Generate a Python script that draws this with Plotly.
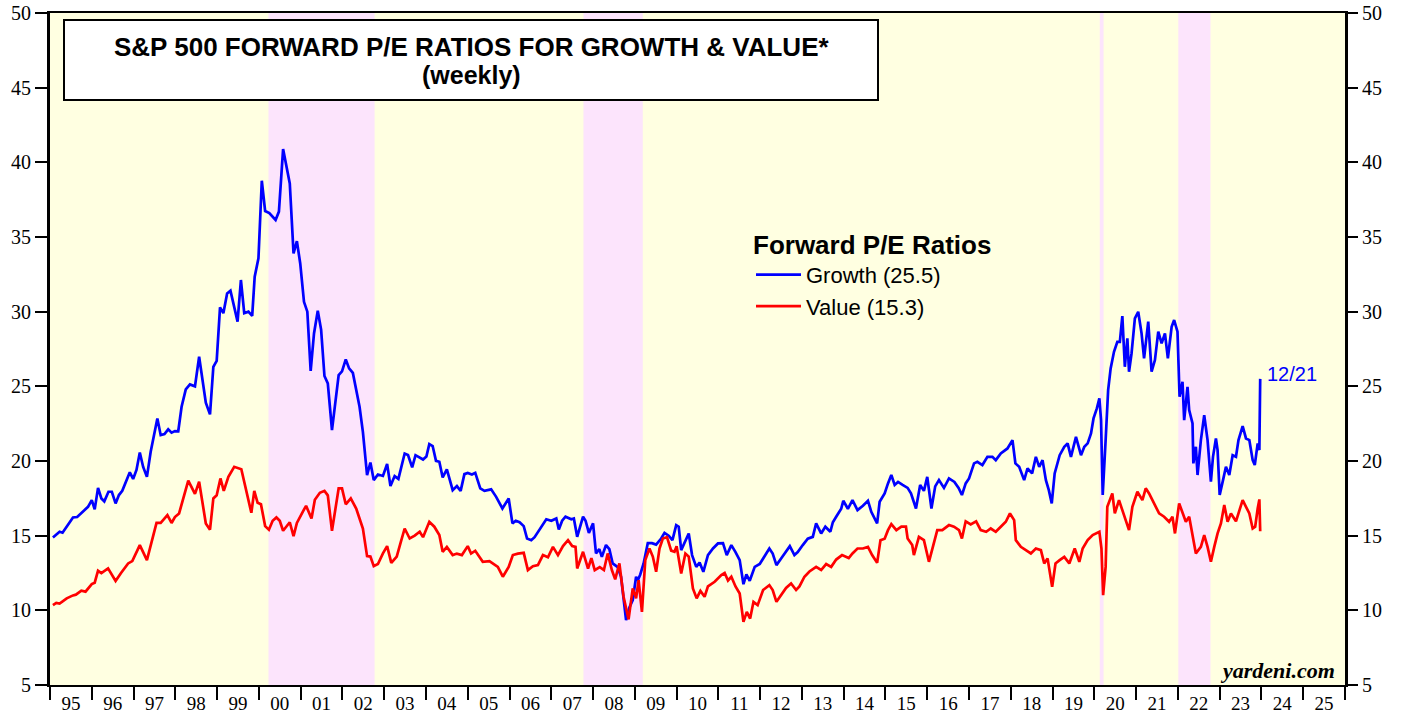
import plotly.graph_objects as go

# ---------------- data ----------------
# decimal year, forward P/E
growth_pts = [
    (1995.07, 14.88), (1995.15, 15.1), (1995.23, 15.26), (1995.30, 15.2), (1995.43, 15.7),
    (1995.55, 16.22), (1995.65, 16.25), (1995.79, 16.6), (1995.91, 16.93), (1996.00, 17.38),
    (1996.07, 16.76), (1996.15, 18.2), (1996.23, 17.49), (1996.30, 17.3), (1996.40, 17.94),
    (1996.48, 17.94), (1996.57, 17.16), (1996.65, 17.72), (1996.73, 18.0), (1996.91, 19.24),
    (1996.99, 18.8), (1997.07, 19.4), (1997.15, 20.57), (1997.23, 19.6), (1997.32, 18.94),
    (1997.41, 20.62), (1997.57, 22.85), (1997.65, 21.73), (1997.74, 21.8), (1997.83, 22.12),
    (1997.91, 21.9), (1997.99, 22.0), (1998.07, 21.99), (1998.15, 23.63), (1998.25, 24.8),
    (1998.35, 25.13), (1998.47, 25.0), (1998.57, 26.98), (1998.73, 23.9), (1998.83, 23.12),
    (1998.91, 26.3), (1998.99, 26.7), (1999.07, 30.29), (1999.15, 29.9), (1999.24, 31.22),
    (1999.32, 31.4), (1999.49, 29.33), (1999.57, 32.12), (1999.65, 29.9), (1999.75, 30.0),
    (1999.84, 29.72), (1999.90, 32.34), (1999.99, 33.57), (2000.07, 38.77), (2000.15, 36.74),
    (2000.25, 36.6), (2000.40, 36.14), (2000.48, 36.7), (2000.58, 40.89), (2000.74, 38.59),
    (2000.83, 33.9), (2000.91, 34.72), (2000.99, 33.23), (2001.08, 30.66), (2001.16, 30.0),
    (2001.24, 26.04), (2001.32, 28.54), (2001.41, 30.06), (2001.49, 28.8), (2001.57, 25.69),
    (2001.65, 25.2), (2001.75, 22.07), (2001.91, 25.75), (2001.99, 26.0), (2002.08, 26.8),
    (2002.16, 26.2), (2002.25, 25.9), (2002.41, 23.63), (2002.49, 21.95), (2002.59, 19.06),
    (2002.67, 19.9), (2002.75, 18.72), (2002.85, 19.1), (2002.97, 19.0), (2003.07, 19.8),
    (2003.15, 18.32), (2003.25, 18.99), (2003.34, 18.8), (2003.49, 20.5), (2003.57, 20.4),
    (2003.67, 19.57), (2003.75, 20.39), (2003.85, 20.2), (2003.93, 20.1), (2004.01, 20.3),
    (2004.08, 21.13), (2004.16, 21.0), (2004.24, 20.01), (2004.32, 19.95), (2004.40, 18.9),
    (2004.50, 19.44), (2004.64, 18.05), (2004.74, 18.32), (2004.83, 18.0), (2004.92, 19.12),
    (2005.00, 19.2), (2005.10, 19.1), (2005.18, 19.21), (2005.30, 18.17), (2005.40, 18.0),
    (2005.56, 18.1), (2005.68, 17.6), (2005.83, 16.82), (2005.98, 17.49), (2006.07, 15.82),
    (2006.15, 16.0), (2006.24, 15.9), (2006.34, 15.64), (2006.42, 14.81), (2006.52, 14.7),
    (2006.60, 14.9), (2006.68, 15.26), (2006.80, 15.82), (2006.88, 16.1), (2007.00, 16.0),
    (2007.12, 16.15), (2007.18, 15.41), (2007.26, 16.0), (2007.34, 16.27), (2007.48, 16.1),
    (2007.54, 16.15), (2007.62, 14.92), (2007.76, 16.27), (2007.82, 16.0), (2007.90, 15.19),
    (2008.00, 15.82), (2008.07, 13.81), (2008.15, 14.1), (2008.21, 13.58), (2008.31, 14.37),
    (2008.39, 14.1), (2008.47, 13.14), (2008.59, 12.9), (2008.67, 12.25), (2008.79, 9.34),
    (2008.87, 10.2), (2008.95, 10.68), (2009.03, 12.25), (2009.07, 12.0), (2009.13, 12.4),
    (2009.21, 13.14), (2009.31, 14.5), (2009.41, 14.5), (2009.51, 14.4), (2009.63, 14.81),
    (2009.71, 15.19), (2009.81, 15.0), (2009.90, 14.7), (2009.99, 15.71), (2010.05, 15.6),
    (2010.11, 14.03), (2010.21, 14.6), (2010.29, 15.15), (2010.37, 13.7), (2010.47, 12.91),
    (2010.55, 13.2), (2010.64, 12.58), (2010.75, 13.7), (2010.87, 14.14), (2010.99, 14.48),
    (2011.11, 14.5), (2011.20, 13.7), (2011.31, 14.37), (2011.41, 13.9), (2011.51, 13.36),
    (2011.60, 11.75), (2011.67, 12.4), (2011.75, 11.98), (2011.87, 12.91), (2011.99, 13.1),
    (2012.10, 13.63), (2012.22, 14.14), (2012.30, 13.8), (2012.39, 13.03), (2012.51, 13.5),
    (2012.62, 13.9), (2012.71, 14.3), (2012.82, 13.7), (2012.90, 13.9), (2013.02, 14.37),
    (2013.14, 14.8), (2013.26, 14.92), (2013.34, 15.82), (2013.46, 15.15), (2013.56, 15.6),
    (2013.68, 15.26), (2013.74, 15.9), (2013.82, 16.27), (2013.94, 16.8), (2013.99, 17.34),
    (2014.10, 16.8), (2014.21, 17.38), (2014.33, 16.71), (2014.46, 17.0), (2014.58, 17.34),
    (2014.66, 16.6), (2014.80, 15.82), (2014.86, 17.27), (2014.98, 17.83), (2015.06, 18.5),
    (2015.14, 19.06), (2015.22, 18.4), (2015.30, 18.6), (2015.41, 18.4), (2015.53, 18.2),
    (2015.61, 17.83), (2015.73, 16.82), (2015.83, 18.39), (2015.92, 18.0), (2016.00, 18.94),
    (2016.10, 16.82), (2016.19, 18.3), (2016.28, 18.72), (2016.40, 18.2), (2016.52, 18.83),
    (2016.65, 18.6), (2016.75, 18.2), (2016.83, 17.72), (2016.92, 18.5), (2017.00, 18.83),
    (2017.12, 19.84), (2017.20, 19.95), (2017.32, 19.73), (2017.44, 20.28), (2017.56, 20.28),
    (2017.64, 20.06), (2017.76, 20.51), (2017.92, 20.84), (2018.04, 21.4), (2018.11, 19.84),
    (2018.20, 19.61), (2018.32, 18.72), (2018.40, 19.5), (2018.51, 19.17), (2018.60, 20.28),
    (2018.68, 19.61), (2018.76, 20.06), (2018.84, 18.72), (2018.91, 18.05), (2018.98, 17.16),
    (2019.05, 19.17), (2019.17, 20.39), (2019.28, 20.95), (2019.36, 21.18), (2019.44, 20.28),
    (2019.56, 21.62), (2019.68, 20.39), (2019.76, 20.95), (2019.84, 21.18), (2019.92, 21.84),
    (2019.98, 22.85), (2020.06, 23.52), (2020.12, 24.19), (2020.16, 22.74), (2020.20, 17.72),
    (2020.27, 21.4), (2020.33, 24.75), (2020.39, 26.2), (2020.47, 27.31), (2020.55, 27.98),
    (2020.61, 27.98), (2020.67, 29.7), (2020.73, 26.31), (2020.79, 28.21), (2020.83, 25.98),
    (2020.89, 27.2), (2020.97, 29.55), (2021.05, 29.99), (2021.13, 28.55), (2021.19, 26.87),
    (2021.29, 29.33), (2021.37, 25.98), (2021.45, 26.76), (2021.53, 28.66), (2021.61, 27.88),
    (2021.69, 28.55), (2021.76, 26.87), (2021.85, 28.99), (2021.91, 29.44), (2021.99, 28.66),
    (2022.04, 24.3), (2022.11, 25.31), (2022.15, 22.74), (2022.23, 24.97), (2022.27, 23.41),
    (2022.35, 22.52), (2022.37, 19.84), (2022.43, 20.95), (2022.47, 19.06), (2022.55, 21.4),
    (2022.63, 23.07), (2022.71, 21.4), (2022.79, 18.61), (2022.84, 20.28), (2022.91, 21.51),
    (2022.95, 20.73), (2023.00, 17.72), (2023.08, 18.72), (2023.15, 19.61), (2023.23, 19.06),
    (2023.31, 20.39), (2023.39, 20.28), (2023.45, 21.4), (2023.55, 22.34), (2023.63, 21.51),
    (2023.71, 21.4), (2023.79, 20.06), (2023.84, 19.73), (2023.91, 21.18), (2023.95, 20.73),
    (2023.97, 25.5),
]

value_pts = [
    (1995.07, 10.35), (1995.15, 10.5), (1995.23, 10.45), (1995.40, 10.8), (1995.55, 11.0),
    (1995.62, 11.05), (1995.75, 11.31), (1995.85, 11.25), (1996.00, 11.76), (1996.07, 11.85),
    (1996.15, 12.65), (1996.23, 12.5), (1996.39, 12.81), (1996.57, 11.96), (1996.70, 12.5),
    (1996.87, 13.14), (1996.97, 13.3), (1997.15, 14.37), (1997.32, 13.36), (1997.55, 15.86),
    (1997.65, 15.85), (1997.81, 16.38), (1997.91, 15.85), (1997.99, 16.25), (1998.09, 16.49),
    (1998.31, 18.68), (1998.47, 17.8), (1998.57, 18.61), (1998.73, 15.82), (1998.83, 15.4),
    (1998.91, 17.49), (1998.99, 17.7), (1999.08, 18.83), (1999.16, 18.0), (1999.27, 18.94),
    (1999.41, 19.61), (1999.58, 19.45), (1999.82, 16.53), (1999.89, 18.0), (1999.97, 17.2),
    (2000.05, 17.1), (2000.15, 15.64), (2000.24, 15.4), (2000.33, 16.0), (2000.42, 16.22),
    (2000.50, 16.0), (2000.58, 15.33), (2000.74, 15.9), (2000.83, 14.97), (2000.91, 15.85),
    (2001.05, 16.6), (2001.13, 17.0), (2001.26, 16.15), (2001.34, 17.4), (2001.46, 17.87),
    (2001.57, 18.0), (2001.65, 17.7), (2001.75, 15.33), (2001.91, 18.17), (2001.99, 18.17),
    (2002.08, 17.1), (2002.20, 17.5), (2002.33, 16.82), (2002.41, 16.1), (2002.49, 15.48),
    (2002.59, 13.63), (2002.67, 13.6), (2002.75, 12.96), (2002.85, 13.1), (2002.97, 13.81),
    (2003.07, 14.3), (2003.17, 13.18), (2003.30, 13.6), (2003.39, 14.5), (2003.49, 15.48),
    (2003.61, 14.81), (2003.73, 15.0), (2003.85, 15.26), (2003.93, 14.9), (2004.08, 15.93),
    (2004.20, 15.6), (2004.32, 15.04), (2004.40, 13.92), (2004.50, 14.25), (2004.64, 13.7),
    (2004.74, 13.8), (2004.86, 13.7), (2005.00, 14.3), (2005.08, 13.8), (2005.18, 13.99),
    (2005.36, 13.25), (2005.52, 13.3), (2005.72, 12.91), (2005.84, 12.25), (2005.98, 12.91),
    (2006.08, 13.7), (2006.20, 13.8), (2006.34, 13.85), (2006.44, 12.69), (2006.56, 12.95),
    (2006.68, 13.03), (2006.80, 13.7), (2006.92, 13.55), (2007.04, 14.25), (2007.16, 13.7),
    (2007.28, 14.3), (2007.40, 14.7), (2007.50, 14.3), (2007.58, 14.25), (2007.62, 12.8),
    (2007.76, 13.92), (2007.88, 12.8), (2007.96, 13.5), (2008.04, 12.69), (2008.16, 12.9),
    (2008.26, 12.7), (2008.35, 13.81), (2008.45, 12.7), (2008.53, 12.07), (2008.63, 13.14),
    (2008.73, 10.91), (2008.85, 9.39), (2008.95, 11.47), (2009.03, 10.8), (2009.09, 12.02),
    (2009.17, 9.9), (2009.25, 13.36), (2009.35, 14.14), (2009.43, 13.6), (2009.51, 12.58),
    (2009.59, 14.14), (2009.67, 14.81), (2009.77, 14.9), (2009.87, 14.0), (2009.95, 13.92),
    (2010.00, 14.3), (2010.11, 12.47), (2010.21, 13.8), (2010.29, 13.6), (2010.39, 11.47),
    (2010.48, 10.8), (2010.57, 11.3), (2010.67, 10.91), (2010.75, 11.6), (2010.91, 11.91),
    (2011.07, 12.36), (2011.15, 12.5), (2011.23, 12.0), (2011.31, 12.25), (2011.41, 11.6),
    (2011.51, 11.13), (2011.60, 9.23), (2011.68, 9.9), (2011.76, 9.45), (2011.84, 10.57),
    (2011.94, 10.35), (2012.07, 11.36), (2012.22, 11.69), (2012.30, 11.36), (2012.39, 10.57),
    (2012.50, 11.0), (2012.62, 11.5), (2012.74, 11.8), (2012.86, 11.36), (2012.94, 11.6),
    (2013.06, 12.25), (2013.18, 12.6), (2013.34, 12.91), (2013.46, 12.7), (2013.58, 13.1),
    (2013.70, 12.91), (2013.82, 13.4), (2013.96, 13.7), (2014.12, 13.5), (2014.21, 13.81),
    (2014.33, 14.14), (2014.46, 14.14), (2014.58, 14.25), (2014.68, 13.7), (2014.80, 13.18),
    (2014.88, 14.7), (2014.98, 14.8), (2015.06, 15.37), (2015.14, 15.77), (2015.26, 15.37),
    (2015.38, 15.6), (2015.49, 15.6), (2015.53, 14.81), (2015.64, 14.37), (2015.68, 13.7),
    (2015.80, 14.92), (2015.92, 14.7), (2016.04, 13.25), (2016.12, 14.03), (2016.24, 15.37),
    (2016.36, 15.37), (2016.52, 15.71), (2016.64, 15.6), (2016.76, 15.37), (2016.83, 14.81),
    (2016.92, 15.96), (2017.04, 15.75), (2017.17, 15.96), (2017.28, 15.37), (2017.41, 15.26),
    (2017.52, 15.48), (2017.64, 15.26), (2017.76, 15.6), (2017.88, 15.93), (2017.98, 16.49),
    (2018.08, 16.04), (2018.12, 14.7), (2018.24, 14.25), (2018.36, 14.03), (2018.48, 13.81),
    (2018.60, 14.14), (2018.72, 14.03), (2018.80, 13.14), (2018.88, 13.48), (2018.99, 11.57),
    (2019.07, 13.14), (2019.17, 13.36), (2019.28, 13.58), (2019.40, 13.14), (2019.53, 14.14),
    (2019.64, 13.25), (2019.72, 14.14), (2019.84, 14.7), (2019.96, 15.04), (2020.12, 15.26),
    (2020.17, 14.14), (2020.21, 11.02), (2020.27, 12.91), (2020.31, 16.93), (2020.43, 17.83),
    (2020.49, 16.49), (2020.59, 17.38), (2020.67, 16.71), (2020.75, 15.96), (2020.83, 15.37),
    (2020.91, 16.93), (2021.03, 17.94), (2021.15, 17.38), (2021.23, 18.17), (2021.31, 17.83),
    (2021.43, 17.16), (2021.55, 16.49), (2021.67, 16.27), (2021.79, 15.93), (2021.87, 16.27),
    (2021.93, 15.15), (2022.03, 17.16), (2022.11, 16.49), (2022.19, 15.93), (2022.27, 16.27),
    (2022.35, 15.15), (2022.43, 13.81), (2022.55, 14.25), (2022.63, 15.04), (2022.71, 14.25),
    (2022.79, 13.25), (2022.87, 14.25), (2022.95, 15.15), (2023.03, 15.82), (2023.11, 17.05),
    (2023.19, 15.93), (2023.27, 16.49), (2023.39, 15.96), (2023.47, 16.71), (2023.55, 17.38),
    (2023.63, 16.93), (2023.71, 16.49), (2023.79, 15.48), (2023.85, 15.6), (2023.91, 16.82),
    (2023.95, 17.43), (2023.97, 15.3),
]

growth_t = [p[0] for p in growth_pts]
growth_v = [p[1] for p in growth_pts]
value_t = [p[0] for p in value_pts]
value_v = [p[1] for p in value_pts]

# bear-market shading (decimal years)
bear_start = [2000.23, 2007.77, 2020.13, 2022.01]
bear_end = [2002.77, 2009.19, 2020.22, 2022.78]

year_ticks = list(range(1995, 2027))
year_labels = ['95', '96', '97', '98', '99', '00', '01', '02', '03', '04', '05', '06', '07',
               '08', '09', '10', '11', '12', '13', '14', '15', '16', '17', '18', '19', '20',
               '21', '22', '23', '24', '25']
y_ticks = [5, 10, 15, 20, 25, 30, 35, 40, 45, 50]

growth_last = 25.5
value_last = 15.3
last_date = '12/21'
title_line1 = 'S&P 500 FORWARD P/E RATIOS FOR GROWTH & VALUE*'
title_line2 = '(weekly)'

# ---------------- figure ----------------
SERIF = 'Liberation Serif, Times New Roman, serif'
SANS = 'Liberation Sans, Arial, sans-serif'
BLUE = '#0000FF'
RED = '#FF0000'

W, H = 1405, 717
ML, MR, MT, MB = 50, 60, 13, 32
PW, PH = W - ML - MR, H - MT - MB


def px_x(px):
    return (px - ML) / PW


def px_y(py):
    return 1 - (py - MT) / PH


fig = go.Figure()
fig.add_trace(go.Scatter(
    x=growth_t, y=growth_v, mode='lines', name=f'Growth ({growth_last})',
    line=dict(color=BLUE, width=2.7)))
fig.add_trace(go.Scatter(
    x=value_t, y=value_v, mode='lines', name=f'Value ({value_last})',
    xaxis='x2', yaxis='y2', line=dict(color=RED, width=2.7)))

for s, e in zip(bear_start, bear_end):
    fig.add_shape(type='rect', xref='x', yref='paper', x0=s, x1=e, y0=0, y1=1,
                  fillcolor='#FCE4FC', line_width=0, layer='below')

tickfont = dict(family=SERIF, size=20, color='black')
xtickfont = dict(family=SERIF, size=19, color='black')
fig.update_layout(
    width=W, height=H,
    margin=dict(l=ML, r=MR, t=MT, b=MB, pad=0, autoexpand=False),
    paper_bgcolor='white', plot_bgcolor='#FFFFE1',
    showlegend=True,
    xaxis=dict(range=[1995, 2026], tickmode='array', tickvals=year_ticks,
               ticktext=[''] * len(year_ticks), ticks='outside', ticklen=13,
               tickwidth=2, tickcolor='black', showline=True, linecolor='black',
               linewidth=2, mirror=True, showgrid=False, zeroline=False,
               automargin=False),
    xaxis2=dict(range=[1995, 2026], overlaying='x', anchor='y2', side='bottom',
                tickmode='array', tickvals=[y + 0.5 for y in year_ticks[:-1]],
                ticktext=year_labels, ticks='outside', ticklen=1,
                tickcolor='rgba(0,0,0,0)', showline=False, showgrid=False,
                zeroline=False, tickfont=xtickfont, automargin=False),
    yaxis=dict(range=[5, 50], tickmode='array', tickvals=y_ticks, ticks='outside',
               ticklen=12, tickwidth=1.5, tickcolor='black', showline=True,
               linecolor='black', linewidth=3, mirror=True, showgrid=False,
               zeroline=False, tickfont=tickfont, automargin=False),
    yaxis2=dict(range=[5, 50], overlaying='y', side='right', anchor='x2',
                tickmode='array', tickvals=y_ticks, ticks='outside', ticklen=12,
                tickwidth=1.5, tickcolor='black', showline=False, showgrid=False,
                zeroline=False, tickfont=tickfont, automargin=False),
    legend=dict(x=px_x(751), y=px_y(220), xanchor='left', yanchor='top',
                bgcolor='rgba(0,0,0,0)', borderwidth=0, tracegroupgap=0,
                itemwidth=45,
                title=dict(text='<b>Forward P/E Ratios</b>',
                           font=dict(family=SANS, size=26, color='black')),
                font=dict(family=SANS, size=22, color='black')),
)

# title box
fig.add_shape(type='rect', xref='paper', yref='paper',
              x0=px_x(64), x1=px_x(878), y0=px_y(100), y1=px_y(20),
              fillcolor='white', line=dict(color='black', width=2), layer='above')
fig.add_annotation(
    xref='paper', yref='paper', x=px_x(471), y=px_y(47), xanchor='center',
    yanchor='middle', showarrow=False, text=f'<b>{title_line1}</b>',
    font=dict(family=SANS, size=26, color='black'))
fig.add_annotation(
    xref='paper', yref='paper', x=px_x(471), y=px_y(75), xanchor='center',
    yanchor='middle', showarrow=False, text=f'<b>{title_line2}</b>',
    font=dict(family=SANS, size=25, color='black'))

# last-date label
fig.add_annotation(
    x=growth_t[-1], y=growth_v[-1], xref='x', yref='y', xanchor='left',
    yanchor='middle', showarrow=False, xshift=5, yshift=5,
    text=last_date, font=dict(family=SANS, size=20, color=BLUE))

# source
fig.add_annotation(
    xref='paper', yref='paper', x=px_x(1337), y=px_y(670), xanchor='right',
    yanchor='middle', showarrow=False, text='<b><i>yardeni.com</i></b>',
    font=dict(family=SERIF, size=22, color='black'))

fig.write_html('out.html', config={'displayModeBar': False},
               post_script="document.body.style.margin='0px';")
